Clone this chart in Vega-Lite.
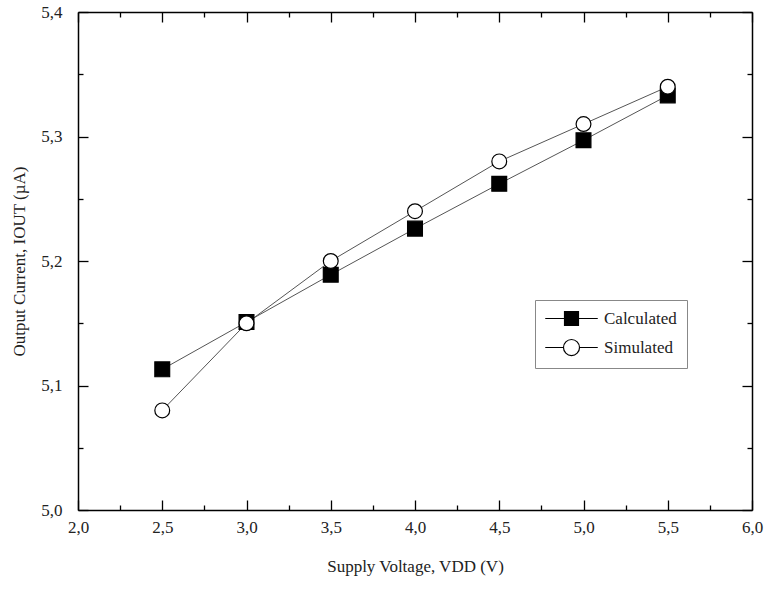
{
  "$schema": "https://vega.github.io/schema/vega-lite/v6.json",
  "width": 674,
  "height": 498,
  "autosize": "none",
  "padding": {"left": 78, "top": 12, "right": 15, "bottom": 79},
  "background": "white",
  "config": {
    "font": "Liberation Serif",
    "view": {"stroke": null},
    "axis": {
      "domainColor": "black",
      "domainWidth": 1.5,
      "tickColor": "black",
      "tickWidth": 1.3,
      "grid": false,
      "labelFont": "Liberation Serif",
      "labelFontSize": 17,
      "labelColor": "#222",
      "titleFont": "Liberation Serif",
      "titleFontSize": 17,
      "titleFontWeight": "normal",
      "titleColor": "#222"
    },
    "legend": {
      "orient": "none",
      "legendX": 457,
      "legendY": 288,
      "strokeColor": "#888",
      "padding": 10,
      "symbolSize": 225,
      "symbolStrokeWidth": 1.2,
      "symbolOffset": 18,
      "labelOffset": 24,
      "rowPadding": 9,
      "labelFont": "Liberation Serif",
      "labelFontSize": 17,
      "labelColor": "#222"
    }
  },
  "data": {
    "values": [
      {"V": 2.5, "I": 5.113, "series": "Calculated"},
      {"V": 3.0, "I": 5.151, "series": "Calculated"},
      {"V": 3.5, "I": 5.189, "series": "Calculated"},
      {"V": 4.0, "I": 5.226, "series": "Calculated"},
      {"V": 4.5, "I": 5.262, "series": "Calculated"},
      {"V": 5.0, "I": 5.297, "series": "Calculated"},
      {"V": 5.5, "I": 5.333, "series": "Calculated"},
      {"V": 2.5, "I": 5.080, "series": "Simulated"},
      {"V": 3.0, "I": 5.150, "series": "Simulated"},
      {"V": 3.5, "I": 5.200, "series": "Simulated"},
      {"V": 4.0, "I": 5.240, "series": "Simulated"},
      {"V": 4.5, "I": 5.280, "series": "Simulated"},
      {"V": 5.0, "I": 5.310, "series": "Simulated"},
      {"V": 5.5, "I": 5.340, "series": "Simulated"}
    ]
  },
  "layer": [
    {
      "mark": {"type": "line", "color": "#555", "strokeWidth": 1},
      "encoding": {
        "x": {
          "field": "V", "type": "quantitative",
          "scale": {"domain": [2, 6], "nice": false, "zero": false},
          "axis": {
            "title": "Supply Voltage, VDD (V)",
            "values": [2, 2.25, 2.5, 2.75, 3, 3.25, 3.5, 3.75, 4, 4.25, 4.5, 4.75, 5, 5.25, 5.5, 5.75, 6],
            "labelExpr": "abs(datum.value*2 - round(datum.value*2)) < 0.001 ? replace(format(datum.value, '.1f'), '.', ',') : ''",
            "tickSize": {"condition": {"test": "abs(datum.value*2 - round(datum.value*2)) < 0.001", "value": -10}, "value": -5},
            "labelPadding": 19,
            "labelFlush": false,
            "labelOverlap": false,
            "titlePadding": 18
          }
        },
        "y": {
          "field": "I", "type": "quantitative",
          "scale": {"domain": [5.0, 5.4], "nice": false, "zero": false},
          "axis": {
            "title": "Output Current, IOUT (µA)",
            "values": [5.0, 5.05, 5.1, 5.15, 5.2, 5.25, 5.3, 5.35, 5.4],
            "labelExpr": "abs(datum.value*10 - round(datum.value*10)) < 0.001 ? replace(format(datum.value, '.1f'), '.', ',') : ''",
            "tickSize": {"condition": {"test": "abs(datum.value*10 - round(datum.value*10)) < 0.001", "value": -10}, "value": -5},
            "labelPadding": 26,
            "labelFlush": false,
            "labelOverlap": false,
            "titlePadding": 12
          }
        },
        "detail": {"field": "series", "type": "nominal"}
      }
    },
    {
      "mark": {"type": "point", "filled": true, "stroke": "black", "strokeWidth": 1.2, "opacity": 1, "size": 220},
      "encoding": {
        "x": {"field": "V", "type": "quantitative", "axis": null},
        "y": {"field": "I", "type": "quantitative", "axis": null},
        "shape": {
          "field": "series", "type": "nominal",
          "scale": {"domain": ["Calculated", "Simulated"], "range": ["square", "circle"]},
          "legend": null
        },
        "fill": {
          "field": "series", "type": "nominal",
          "scale": {"domain": ["Calculated", "Simulated"], "range": ["black", "white"]},
          "legend": null
        }
      }
    },
    {
      "transform": [{"filter": "datum.V > 100"}],
      "mark": {"type": "point", "filled": true, "strokeWidth": 1.2, "opacity": 1},
      "encoding": {
        "x": {
          "field": "V", "type": "quantitative",
          "axis": {
            "orient": "top", "title": null, "labels": false,
            "values": [2, 2.25, 2.5, 2.75, 3, 3.25, 3.5, 3.75, 4, 4.25, 4.5, 4.75, 5, 5.25, 5.5, 5.75, 6],
            "tickSize": {"condition": {"test": "abs(datum.value*2 - round(datum.value*2)) < 0.001", "value": -10}, "value": -5}
          }
        },
        "y": {
          "field": "I", "type": "quantitative",
          "axis": {
            "orient": "right", "title": null, "labels": false,
            "values": [5.0, 5.05, 5.1, 5.15, 5.2, 5.25, 5.3, 5.35, 5.4],
            "tickSize": {"condition": {"test": "abs(datum.value*10 - round(datum.value*10)) < 0.001", "value": -10}, "value": -5}
          }
        },
        "shape": {
          "field": "series", "type": "nominal",
          "scale": {"domain": ["Calculated", "Simulated"], "range": ["M-3.5,0H-0.93M0.93,0H3.5M-0.93,-0.93H0.93V0.93H-0.93Z", "M-3.5,0H-1.07M1.07,0H3.5M-1.07,0A1.07,1.07 0 1,0 1.07,0A1.07,1.07 0 1,0 -1.07,0Z"]},
          "legend": {"title": null}
        },
        "fill": {
          "field": "series", "type": "nominal",
          "scale": {"domain": ["Calculated", "Simulated"], "range": ["black", "white"]},
          "legend": {"title": null}
        },
        "stroke": {
          "field": "series", "type": "nominal",
          "scale": {"domain": ["Calculated", "Simulated"], "range": ["black", "black"]},
          "legend": {"title": null}
        }
      }
    }
  ],
  "resolve": {
    "axis": {"x": "independent", "y": "independent"},
    "scale": {"shape": "independent", "fill": "independent", "stroke": "independent"}
  }
}
